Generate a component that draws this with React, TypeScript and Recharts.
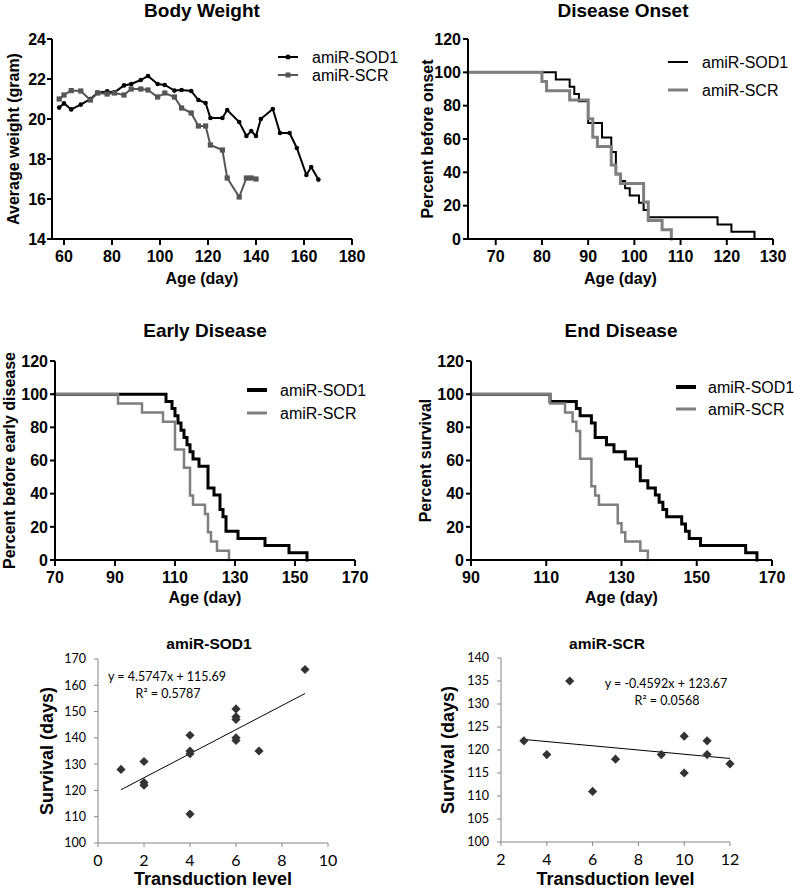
import React from 'react';
import { LineChart, ComposedChart, Line, Scatter, XAxis, YAxis, Legend, Label } from 'recharts';

const PRISM_FONT = '"Liberation Sans", Arial, Helvetica, sans-serif';
const EXCEL_FONT = 'Lato, "Liberation Sans", sans-serif';

// ---------------- Body weight ----------------
const bwDays = [58, 60, 63, 67, 71, 74, 78, 81, 85, 88, 92, 95, 99, 102, 106, 109, 113, 116, 119, 121, 126, 128, 133, 136, 138, 140, 142, 147, 150, 154, 157, 161, 163, 166];
const bwSod1 = [20.57, 20.78, 20.48, 20.72, 21.0, 21.32, 21.38, 21.33, 21.68, 21.75, 21.95, 22.15, 21.75, 21.7, 21.42, 21.45, 21.4, 20.95, 20.8, 20.05, 20.05, 20.45, 19.85, 19.15, 19.4, 19.15, 20.0, 20.5, 19.3, 19.3, 18.55, 17.2, 17.6, 16.97];
const bwScr = [21.0, 21.2, 21.42, 21.4, 20.95, 21.3, 21.25, 21.3, 21.2, 21.5, 21.5, 21.45, 21.1, 21.3, 21.1, 20.55, 20.3, 19.65, 19.65, 18.7, 18.45, 17.05, 16.1, 17.05, 17.05, 17.0];
const bwXTicks = [60, 80, 100, 120, 140, 160, 180];
const bwYTicks = [14, 16, 18, 20, 22, 24];

// ---------------- Disease onset ----------------
const onsetSod1Days = [64, 83, 86, 87, 88, 90, 93, 95, 96, 97, 98, 99, 101, 102, 103, 118, 121, 126];
const onsetSod1Pct = [100, 95.65, 91.3, 86.96, 82.61, 69.57, 60.87, 52.17, 39.13, 34.78, 30.43, 26.09, 21.74, 17.39, 13.04, 8.7, 4.35, 0];
const onsetScrDays = [64, 80, 81, 86, 90, 91, 92, 95, 96, 97, 102, 103, 106, 108];
const onsetScrPct = [100, 94.44, 88.89, 83.33, 72.22, 61.11, 55.56, 44.44, 38.89, 33.33, 22.22, 11.11, 5.56, 0];
const onsetXTicks = [70, 80, 90, 100, 110, 120, 130];

// ---------------- Early disease ----------------
const earlySod1Days = [70, 107, 109, 110, 111, 112, 113, 114, 115, 116, 118, 121, 123, 125, 126, 127, 131, 140, 148, 154];
const earlySod1Pct = [100, 95.65, 91.3, 86.96, 82.61, 78.26, 73.91, 69.57, 65.22, 60.87, 56.52, 43.48, 39.13, 30.43, 26.09, 17.39, 13.04, 8.7, 4.35, 0];
const earlyScrDays = [70, 91, 99, 106, 110, 113, 115, 116, 120, 121, 122, 124, 128];
const earlyScrPct = [100, 94.44, 88.89, 83.33, 66.67, 55.56, 38.89, 33.33, 27.78, 16.67, 11.11, 5.56, 0];
const earlyXTicks = [70, 90, 110, 130, 150, 170];

// ---------------- End disease ----------------
const endSod1Days = [90, 111, 118, 119, 122, 123, 126, 128, 131, 134, 135, 137, 139, 140, 141, 142, 146, 147, 148, 151, 163, 166];
const endSod1Pct = [100, 95.65, 91.3, 86.96, 82.61, 73.91, 69.57, 65.22, 60.87, 56.52, 47.83, 43.48, 39.13, 34.78, 30.43, 26.09, 21.74, 17.39, 13.04, 8.7, 4.35, 0];
const endScrDays = [90, 111, 115, 117, 118, 119, 122, 123, 124, 129, 130, 131, 135, 137];
const endScrPct = [100, 94.44, 88.89, 83.33, 77.78, 61.11, 44.44, 38.89, 33.33, 22.22, 16.67, 11.11, 5.56, 0];
const endXTicks = [90, 110, 130, 150, 170];

const pctTicks = [0, 20, 40, 60, 80, 100, 120];

// ---------------- Transduction scatter ----------------
const sod1X = [1, 2, 2, 2, 4, 4, 4, 4, 6, 6, 6, 6, 6, 7, 9];
const sod1Y = [128, 131, 123, 122, 141, 135, 134, 111, 151, 148, 147, 140, 139, 135, 166];
const sod1TrendX = [1, 9];
const sod1TrendY = [120.26, 156.86];
const scrX = [3, 4, 5, 6, 7, 9, 10, 10, 11, 11, 12];
const scrY = [122, 119, 135, 111, 118, 119, 123, 115, 122, 119, 117];
const scrTrendX = [3, 12];
const scrTrendY = [122.29, 118.16];

const names = { sod1: 'amiR-SOD1', scr: 'amiR-SCR' };
const legendOrder = [names.sod1, names.scr];

// ---------------- helpers ----------------
const bwData = bwDays.map((d, i) => ({ day: d, sod1: bwSod1[i], scr: i < bwScr.length ? bwScr[i] : null }));
const steps = (days: number[], pct: number[]) => days.map((d, i) => ({ day: d, pct: pct[i] }));
const pts = (xs: number[], ys: number[]) => xs.map((x, i) => ({ x, y: ys[i] }));

const prismTick = { fontFamily: PRISM_FONT, fontSize: 16, fontWeight: 700, fill: '#000' };
const prismLine = { stroke: '#000', strokeWidth: 2 };
const labelProps = { fontFamily: PRISM_FONT, fontSize: 16, fontWeight: 700, fill: '#000' };

const excelAxis = { stroke: '#868686', strokeWidth: 1 };

type LegCfg = { gap: number; lineLen: number; textX: number; widths: number[]; markers?: (string | null)[] };
const makeLegend = (cfg: LegCfg) => (props: any) => {
  const payload: any[] = props.payload || [];
  const ordered = legendOrder.map((n) => payload.find((p) => p.value === n)).filter(Boolean);
  return (
    <svg width={170} height={cfg.gap * ordered.length + 16} style={{ overflow: 'visible', display: 'block' }}>
      {ordered.map((p: any, i: number) => {
        const y = 8 + i * cfg.gap;
        const mk = cfg.markers ? cfg.markers[i] : null;
        const mid = cfg.lineLen / 2;
        return (
          <g key={i}>
            <line x1={0} x2={cfg.lineLen} y1={y} y2={y} stroke={p.color} strokeWidth={cfg.widths[i]} />
            {mk === 'circle' && <circle cx={mid} cy={y} r={2.5} fill={p.color} />}
            {mk === 'square' && <rect x={mid - 2.5} y={y - 2.5} width={5} height={5} fill={p.color} />}
            <text x={cfg.textX} y={y} dy="0.36em" fontFamily={PRISM_FONT} fontSize={16} fill="#000">{p.value}</text>
          </g>
        );
      })}
    </svg>
  );
};

const squareDot = (props: any) => {
  const { cx, cy, index } = props;
  if (cx == null || cy == null || isNaN(cy)) return <g key={`sq-${index}`} />;
  return <rect key={`sq-${index}`} x={cx - 2.6} y={cy - 2.6} width={5.2} height={5.2} fill="#555" />;
};

const diamond = (fill: string) => (props: any) => {
  const { cx, cy } = props;
  const h = 4.6;
  return <path d={`M${cx},${cy - h}L${cx + h},${cy}L${cx},${cy + h}L${cx - h},${cy}Z`} fill={fill} />;
};

type KMProps = {
  left: number; top: number; width: number; height: number;
  margin: { top: number; right: number; bottom: number; left: number };
  yWidth: number; xHeight: number; xDomain: [number, number]; xTicks: number[];
  yLabel: string; yLabelOffset: number;
  sod1: { day: number; pct: number }[]; scr: { day: number; pct: number }[];
  sod1W: number; scrW: number; legend: { left: number; top: number; cfg: LegCfg };
};

function KMPanel(p: KMProps) {
  return (
    <div style={{ position: 'absolute', left: p.left, top: p.top }}>
      <LineChart width={p.width} height={p.height} margin={p.margin}>
        <XAxis type="number" dataKey="day" domain={p.xDomain} ticks={p.xTicks} interval={0} height={p.xHeight}
          axisLine={prismLine} tickLine={prismLine} tickSize={6} tickMargin={6} tick={prismTick}>
          <Label value="Age (day)" position="insideBottom" offset={0} {...labelProps} />
        </XAxis>
        <YAxis type="number" domain={[0, 120]} ticks={pctTicks} interval={0} width={p.yWidth}
          axisLine={prismLine} tickLine={prismLine} tickSize={5} tickMargin={2} tick={prismTick}>
          <Label value={p.yLabel} angle={-90} position="insideLeft" offset={p.yLabelOffset} textAnchor="middle" {...labelProps} />
        </YAxis>
        <Line name={names.sod1} data={p.sod1} dataKey="pct" type="stepAfter" stroke="#000" strokeWidth={p.sod1W}
          dot={false} isAnimationActive={false} strokeLinecap="square" />
        <Line name={names.scr} data={p.scr} dataKey="pct" type="stepAfter" stroke="#7f7f7f" strokeWidth={p.scrW}
          dot={false} isAnimationActive={false} strokeLinecap="square" />
        <Legend layout="vertical" align="center" verticalAlign="middle" content={makeLegend(p.legend.cfg)}
          wrapperStyle={{ left: p.legend.left, top: p.legend.top, width: 116, height: 60 }} />
      </LineChart>
    </div>
  );
}

type SCProps = {
  left: number; top: number; width: number; height: number;
  margin: { top: number; right: number; bottom: number; left: number };
  yWidth: number; xHeight: number; xDomain: [number, number]; xTicks: number[];
  yDomain: [number, number]; yTicks: number[]; yLabelOffset: number;
  points: { x: number; y: number }[]; trend: { x: number; y: number }[];
};

function ScatterPanel(p: SCProps) {
  return (
    <div style={{ position: 'absolute', left: p.left, top: p.top }}>
      <ComposedChart width={p.width} height={p.height} margin={p.margin}>
        <XAxis type="number" dataKey="x" domain={p.xDomain} ticks={p.xTicks} interval={0} height={p.xHeight}
          axisLine={excelAxis} tickLine={excelAxis} tickSize={4} tickMargin={8}
          tick={{ fontFamily: EXCEL_FONT, fontSize: 16, fill: '#000' }}>
          <Label value="Transduction level" position="insideBottom" offset={4} fontFamily={PRISM_FONT} fontSize={18} fontWeight={700} fill="#000" />
        </XAxis>
        <YAxis type="number" dataKey="y" domain={p.yDomain} ticks={p.yTicks} interval={0} width={p.yWidth}
          axisLine={excelAxis} tickLine={excelAxis} tickSize={4} tickMargin={8}
          tick={{ fontFamily: EXCEL_FONT, fontSize: 12.5, fill: '#000' }}>
          <Label value="Survival (days)" angle={-90} position="insideLeft" offset={p.yLabelOffset} textAnchor="middle"
            fontFamily={PRISM_FONT} fontSize={18} fontWeight={700} fill="#000" />
        </YAxis>
        <Line data={p.trend} dataKey="y" stroke="#000" strokeWidth={1} dot={false} isAnimationActive={false} />
        <Scatter data={p.points} dataKey="y" shape={diamond('#333')} isAnimationActive={false} />
      </ComposedChart>
    </div>
  );
}

export default function App() {
  return (
    <div style={{ position: 'absolute', left: 0, top: 0, width: 797, height: 889, background: '#fff', overflow: 'hidden' }}>
      {/* Body weight */}
      <div style={{ position: 'absolute', left: 0, top: 0 }}>
        <LineChart width={400} height={290} data={bwData} margin={{ top: 39, right: 48, bottom: 6, left: 0 }}>
          <XAxis type="number" dataKey="day" domain={[55, 180]} ticks={bwXTicks} interval={0} height={45}
            axisLine={prismLine} tickLine={prismLine} tickSize={6} tickMargin={6} tick={prismTick}>
            <Label value="Age (day)" position="insideBottom" offset={0} {...labelProps} />
          </XAxis>
          <YAxis type="number" domain={[14, 24]} ticks={bwYTicks} interval={0} width={52}
            axisLine={prismLine} tickLine={prismLine} tickSize={5} tickMargin={1} tick={prismTick}>
            <Label value="Average  weight (gram)" angle={-90} position="insideLeft" offset={13} textAnchor="middle" {...labelProps} />
          </YAxis>
          <Line name={names.sod1} dataKey="sod1" stroke="#000" strokeWidth={2} isAnimationActive={false}
            dot={{ r: 2.3, fill: '#000', stroke: '#000', strokeWidth: 0 }} />
          <Line name={names.scr} dataKey="scr" stroke="#555" strokeWidth={2} isAnimationActive={false} dot={squareDot} />
          <Legend layout="vertical" align="center" verticalAlign="middle"
            content={makeLegend({ gap: 18, lineLen: 20, textX: 34, widths: [2, 2], markers: ['circle', 'square'] })}
            wrapperStyle={{ left: 278, top: 49, width: 118, height: 50 }} />
        </LineChart>
      </div>

      <KMPanel left={400} top={0} width={397} height={290} margin={{ top: 39, right: 24, bottom: 6, left: 0 }}
        yWidth={68} xHeight={45} xDomain={[64, 130]} xTicks={onsetXTicks} yLabel="Percent before onset" yLabelOffset={27}
        sod1={steps(onsetSod1Days, onsetSod1Pct)} scr={steps(onsetScrDays, onsetScrPct)} sod1W={2} scrW={3}
        legend={{ left: 268, top: 54, cfg: { gap: 28, lineLen: 20, textX: 34, widths: [2, 3] } }} />

      <KMPanel left={0} top={290} width={400} height={320} margin={{ top: 71, right: 45, bottom: 7, left: 0 }}
        yWidth={55} xHeight={43} xDomain={[70, 170]} xTicks={earlyXTicks} yLabel="Percent before early disease" yLabelOffset={9}
        sod1={steps(earlySod1Days, earlySod1Pct)} scr={steps(earlyScrDays, earlyScrPct)} sod1W={3} scrW={2.5}
        legend={{ left: 247, top: 92, cfg: { gap: 23, lineLen: 20, textX: 33, widths: [4, 3] } }} />

      <KMPanel left={400} top={290} width={397} height={320} margin={{ top: 71, right: 25, bottom: 7, left: 0 }}
        yWidth={71} xHeight={43} xDomain={[90, 170]} xTicks={endXTicks} yLabel="Percent survival" yLabelOffset={25}
        sod1={steps(endSod1Days, endSod1Pct)} scr={steps(endScrDays, endScrPct)} sod1W={3} scrW={2.5}
        legend={{ left: 276, top: 89, cfg: { gap: 22, lineLen: 20, textX: 32, widths: [4, 3] } }} />

      <ScatterPanel left={0} top={595} width={400} height={294} margin={{ top: 64, right: 72, bottom: 0, left: 0 }}
        yWidth={98} xHeight={46} xDomain={[0, 10]} xTicks={[0, 2, 4, 6, 8, 10]}
        yDomain={[100, 170]} yTicks={[100, 110, 120, 130, 140, 150, 160, 170]} yLabelOffset={47}
        points={pts(sod1X, sod1Y)} trend={pts(sod1TrendX, sod1TrendY)} />

      <ScatterPanel left={400} top={595} width={397} height={294} margin={{ top: 63, right: 67, bottom: 0, left: 0 }}
        yWidth={101} xHeight={47} xDomain={[2, 12]} xTicks={[2, 4, 6, 8, 10, 12]}
        yDomain={[100, 140]} yTicks={[100, 105, 110, 115, 120, 125, 130, 135, 140]} yLabelOffset={48}
        points={pts(scrX, scrY)} trend={pts(scrTrendX, scrTrendY)} />

      {/* titles and annotations */}
      <svg width={797} height={889} style={{ position: 'absolute', left: 0, top: 0, pointerEvents: 'none' }}>
        <g fontFamily={PRISM_FONT} fontWeight={700} fontSize={19} fill="#000" textAnchor="middle">
          <text x={202} y={17}>Body Weight</text>
          <text x={623} y={17}>Disease Onset</text>
          <text x={205} y={337}>Early Disease</text>
          <text x={621} y={337}>End Disease</text>
        </g>
        <g fontFamily={PRISM_FONT} fontWeight={700} fontSize={15.5} fill="#000" textAnchor="middle">
          <text x={209} y={649}>{names.sod1}</text>
          <text x={607} y={649}>{names.scr}</text>
        </g>
        <g fontFamily={EXCEL_FONT} fontSize={12.5} fill="#000" textAnchor="middle">
          <text x={167} y={681}>y = 4.5747x + 115.69</text>
          <text x={168} y={698}>R² = 0.5787</text>
          <text x={666} y={688}>y = -0.4592x + 123.67</text>
          <text x={667} y={705}>R² = 0.0568</text>
        </g>
      </svg>
    </div>
  );
}
